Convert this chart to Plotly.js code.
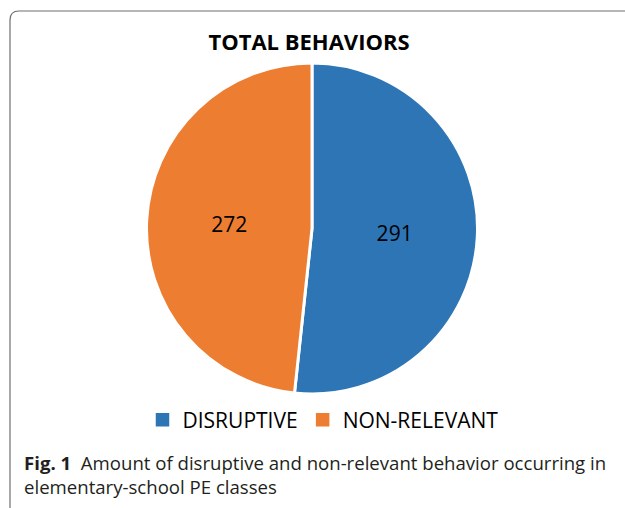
<!DOCTYPE html>
<html><head><meta charset="utf-8">
<script src="https://cdn.plot.ly/plotly-3.0.1.min.js"></script>
<style>html,body{margin:0;padding:0;background:#fff;}#chart{width:625px;height:508px;}
.legendpoints path.legendpie{transform: translate(20px,0px) scale(1.5);}
</style>
</head><body><div id="chart"></div>
<script>
const categories = ["DISRUPTIVE", "NON-RELEVANT"];
const values = [291, 272];
const colors = ["#2E75B6", "#ED7D31"];
const chartTitle = "TOTAL BEHAVIORS";
const caption = "<b>Fig. 1</b>  Amount of disruptive and non-relevant behavior occurring in<br>elementary-school PE classes";

const W = 625, H = 508;
const px = x => x / W, py = y => 1 - y / H;

const trace = {
  type: "pie",
  labels: categories,
  values: values,
  marker: {colors: colors, line: {color: "#ffffff", width: 3}},
  sort: false,
  direction: "clockwise",
  rotation: 0,
  textinfo: "value",
  textposition: "inside",
  insidetextorientation: "horizontal",
  textfont: {family: "Open Sans, sans-serif", size: 21, color: "#000"},
  hoverinfo: "label+value",
  domain: {x: [px(146), px(478)], y: [py(394), py(63)]}
};

const layout = {
  width: W, height: H,
  margin: {l: 0, r: 0, t: 0, b: 0},
  paper_bgcolor: "#ffffff",
  title: {text: "<b>" + chartTitle + "</b>", font: {family: "Open Sans, sans-serif", size: 22, color: "#000"},
    x: px(309), xanchor: "center", y: py(42), yanchor: "middle", xref: "paper", yref: "container"},
  showlegend: true,
  legend: {orientation: "h", x: px(323), xanchor: "center", y: py(420), yanchor: "middle",
    font: {family: "Open Sans, sans-serif", size: 21, color: "#000"}, itemwidth: 30, traceorder: "normal"},
  shapes: [{type: "path", xref: "paper", yref: "paper",
    path: "M " + px(10) + "," + py(520) + " L " + px(10) + "," + py(20) + " Q " + px(10) + "," + py(11) + " " + px(19) + "," + py(11) + " L " + px(640) + "," + py(11),
    line: {color: "#6d6e71", width: 1.2}}],
  annotations: [{text: caption, xref: "paper", yref: "paper", x: px(22), y: py(474), xanchor: "left", yanchor: "middle",
    align: "left", showarrow: false, font: {family: "Open Sans, sans-serif", size: 18.6, color: "#231f20"}}]
};

Plotly.newPlot("chart", [trace], layout, {displayModeBar: false, staticPlot: true});
</script></body></html>
